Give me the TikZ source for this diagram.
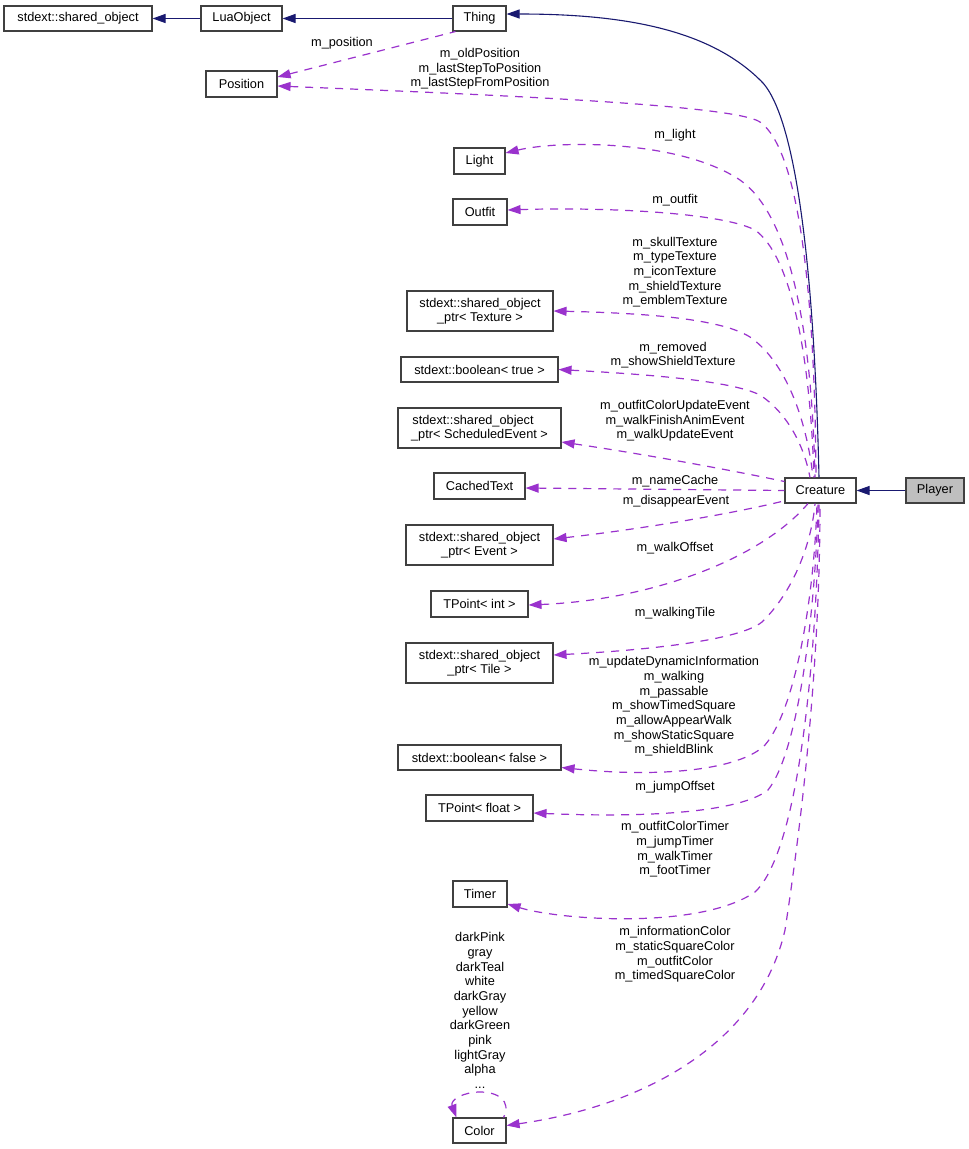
\documentclass[tikz,border=0pt]{standalone}
\usepackage{fontspec}
\setmainfont{Liberation Sans}
\usetikzlibrary{arrows.meta,calc}
\definecolor{edgepurple}{HTML}{9A32CD}
\definecolor{edgenavy}{HTML}{191970}
\definecolor{boxline}{HTML}{404040}
\definecolor{playerfill}{HTML}{BFBFBF}
\begin{document}
\begin{tikzpicture}[x=1pt,y=-1pt,
  cls/.style={draw=boxline, line width=1.1pt, fill=white, inner sep=0pt,
    minimum height=25pt, align=center, font=\fontsize{12.75}{14}\selectfont},
  lbl/.style={inner sep=0pt, align=center, font=\fontsize{12.75}{14.65}\selectfont},
  dep/.style={draw=edgepurple, line width=1.2pt, dash pattern=on 8pt off 7pt,
    {Triangle[length=13pt,width=9pt]}-},
  inh/.style={draw=edgenavy, line width=1.1pt, -{Triangle[length=13pt,width=9pt]}},
]
\fill[white] (0,0) rectangle (969,1149);
\useasboundingbox (0,0) rectangle (969,1149);

% class boxes
\node[cls, minimum width=148pt] (so) at (78,18.5) {stdext::shared\_object};
\node[cls, minimum width=81pt] (lua) at (241.5,18.5) {LuaObject};
\node[cls, minimum width=53pt] (thing) at (479.5,18.5) {Thing};
\node[cls, minimum width=71pt, minimum height=26pt] (pos) at (241.5,84) {Position};
\node[cls, minimum width=51pt, minimum height=26pt] (light) at (479.5,161) {Light};
\node[cls, minimum width=54pt, minimum height=26pt] (outfit) at (480,212) {Outfit};
\node[cls, minimum width=146pt, minimum height=40pt] (tex) at (480,311) {stdext::shared\_object\\\_ptr< Texture >};
\node[cls, minimum width=157pt] (btrue) at (479.5,369.5) {stdext::boolean< true >};
\node[cls, minimum width=163pt, minimum height=40pt] (sched) at (479.5,428) {stdext::shared\_object\hspace*{13pt}\\\_ptr< ScheduledEvent >};
\node[cls, minimum width=91pt, minimum height=26pt] (cached) at (479.5,486) {CachedText};
\node[cls, minimum width=147pt, minimum height=40pt] (event) at (479.5,545) {stdext::shared\_object\\\_ptr< Event >};
\node[cls, minimum width=97pt, minimum height=26pt] (tint) at (479.5,604) {TPoint< int >};
\node[cls, minimum width=147pt, minimum height=40pt] (tile) at (479.5,663) {stdext::shared\_object\\\_ptr< Tile >};
\node[cls, minimum width=163pt] (bfalse) at (479.5,757.5) {stdext::boolean< false >};
\node[cls, minimum width=107pt, minimum height=26pt] (tfloat) at (479.5,808) {TPoint< float >};
\node[cls, minimum width=54pt, minimum height=26pt] (timer) at (480,894) {Timer};
\node[cls, minimum width=53pt] (color) at (479.5,1130.5) {Color};
\node[cls, minimum width=71pt] (creature) at (820.5,490.5) {Creature};
\node[cls, minimum width=58pt, fill=playerfill] (player) at (935,490.5) {Player};

% inheritance
\draw[inh] (lua.west) -- (so.east);
\draw[inh] (thing.west) -- (lua.east);
\draw[inh] (player.west) -- (creature.east);
\draw[inh] ($(creature.north)+(-1.5,0)$) .. controls (815,300) and (800,125) .. (763,83)
   .. controls (710,28) and (620,14) .. ($(thing.east)+(0,-4.5)$);

% usage edges
\draw[dep] ($(pos.east)+(0,-7)$) -- ($(thing.south west)+(3,0)$);
\draw[dep] ($(pos.east)+(0,2)$) .. controls (500,95) and (735,105) .. (760,122)
   .. controls (800,150) and (815,300) .. ($(creature.north)+(-4.5,0)$);
\draw[dep] ($(light.east)+(0,-8)$) .. controls (560,140) and (680,140) .. (740,180)
   .. controls (790,215) and (812,330) .. ($(creature.north)+(-5.5,0)$);
\draw[dep] ($(outfit.east)+(0,-2)$) .. controls (600,207) and (720,212) .. (755,230)
   .. controls (790,255) and (810,350) .. ($(creature.north)+(-6.5,0)$);
\draw[dep] (tex.east) .. controls (640,313) and (720,318) .. (750,337)
   .. controls (790,365) and (808,430) .. ($(creature.north)+(-7.5,0)$);
\draw[dep] (btrue.east) .. controls (640,374) and (730,380) .. (760,395)
   .. controls (790,415) and (805,450) .. ($(creature.north)+(-10.5,0)$);
\draw[dep] ($(sched.east)+(0,14)$) .. controls (650,455) and (740,472) .. ($(creature.west)+(0,-9)$);
\draw[dep] ($(cached.east)+(0,2)$) -- (creature.west);
\draw[dep] ($(event.east)+(0,-6)$) .. controls (650,528) and (740,512) .. ($(creature.south west)+(1,-3)$);
\draw[dep] ($(tint.east)+(0,1)$) .. controls (650,600) and (760,560) .. ($(creature.south)+(-12.5,0)$);
\draw[dep] ($(tile.east)+(0,-8)$) .. controls (650,650) and (740,640) .. (762,622)
   .. controls (795,590) and (812,540) .. ($(creature.south)+(-5.5,0)$);
\draw[dep] ($(bfalse.east)+(0,10)$) .. controls (660,778) and (740,770) .. (765,745)
   .. controls (795,710) and (814,600) .. ($(creature.south)+(-3.5,0)$);
\draw[dep] ($(tfloat.east)+(0,5)$) .. controls (650,818) and (740,812) .. (768,790)
   .. controls (800,750) and (816,600) .. ($(creature.south)+(-2.5,0)$);
\draw[dep] ($(timer.east)+(0,10)$) .. controls (560,920) and (700,930) .. (755,892)
   .. controls (800,850) and (817,650) .. ($(creature.south)+(-1.5,0)$);
\draw[dep] ($(color.east)+(0,-5)$) .. controls (650,1105) and (760,1040) .. (785,930)
   .. controls (805,800) and (820,650) .. ($(creature.south)+(-0.5,0)$);
\draw[dep] ($(color.north west)+(4,0)$) .. controls (450,1100) and (463,1092) .. (480,1092)
   .. controls (497,1092) and (512,1100) .. ($(color.north east)+(-3,0)$);

% labels
\node[lbl] (l1) at (342,43) {m\_position};
\node[lbl] (l2) at (480,69) {m\_oldPosition\\m\_lastStepToPosition\\m\_lastStepFromPosition};
\node[lbl] (l3) at (675,135) {m\_light};
\node[lbl] (l4) at (675,200) {m\_outfit};
\node[lbl] (l5) at (675,272) {m\_skullTexture\\m\_typeTexture\\m\_iconTexture\\m\_shieldTexture\\m\_emblemTexture};
\node[lbl] (l6) at (673,355) {m\_removed\\m\_showShieldTexture};
\node[lbl] (l7) at (675,421) {m\_outfitColorUpdateEvent\\m\_walkFinishAnimEvent\\m\_walkUpdateEvent};
\node[lbl] (l8) at (675,481) {m\_nameCache};
\node[lbl] (l9) at (676,501) {m\_disappearEvent};
\node[lbl] (l10) at (675,548) {m\_walkOffset};
\node[lbl] (l11) at (675,613) {m\_walkingTile};
\node[lbl] (l12) at (674,706.5) {m\_updateDynamicInformation\\m\_walking\\m\_passable\\m\_showTimedSquare\\m\_allowAppearWalk\\m\_showStaticSquare\\m\_shieldBlink};
\node[lbl] (l13) at (675,787) {m\_jumpOffset};
\node[lbl] (l14) at (675,849.5) {m\_outfitColorTimer\\m\_jumpTimer\\m\_walkTimer\\m\_footTimer};
\node[lbl] (l15) at (675,954.5) {m\_informationColor\\m\_staticSquareColor\\m\_outfitColor\\m\_timedSquareColor};
\node[lbl] (l16) at (480,1010.5) {darkPink\\gray\\darkTeal\\white\\darkGray\\yellow\\darkGreen\\pink\\lightGray\\alpha\\...};
\end{tikzpicture}
\end{document}
